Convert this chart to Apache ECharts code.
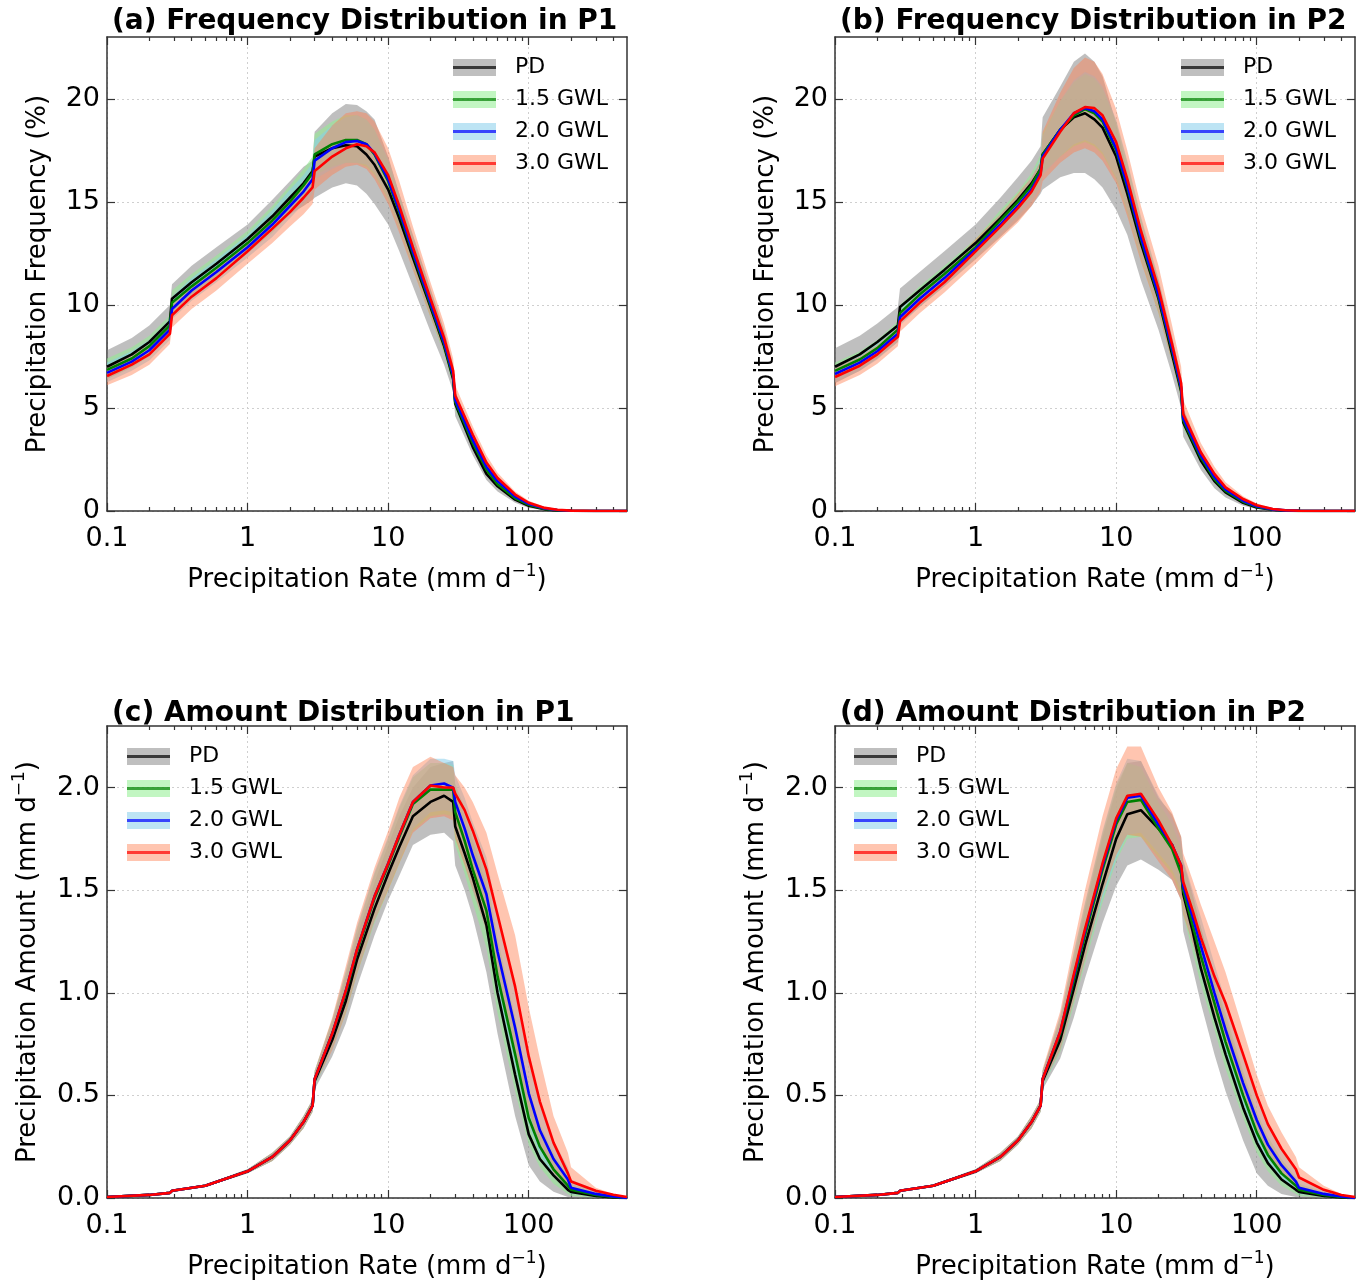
<!DOCTYPE html>
<html>
<head>
<meta charset="utf-8">
<script src="https://cdn.jsdelivr.net/npm/echarts@6.0.0/dist/echarts.min.js"></script>
<style>
  html, body { margin: 0; padding: 0; background: #fff; }
  #chart { width: 1362px; height: 1281px; }
</style>
</head>
<body>
<div id="chart"></div>
<script>
// precipitation rate bins (mm/d)
const rateFreq = [0.1, 0.15, 0.2, 0.28, 0.29, 0.4, 0.6, 1, 1.5, 2, 2.5, 2.9, 3, 4, 5, 6, 7, 8, 10, 12,
  15, 20, 25, 29, 30, 40, 50, 60, 80, 100, 130, 160, 200, 300, 500];
const rateAmt = [0.1, 0.2, 0.28, 0.29, 0.5, 1, 1.5, 2, 2.5, 2.9, 3, 4, 5, 6, 8, 10, 12, 15, 20, 25,
  29, 30, 35, 40, 50, 60, 80, 100, 120, 150, 190, 200, 300, 400, 500];

const scenarios = ['PD', '1.5 GWL', '2.0 GWL', '3.0 GWL'];
const majorRates = [0.1, 1, 10, 100];
const minorRates = [0.2, 0.3, 0.4, 0.5, 0.6, 0.7, 0.8, 0.9, 2, 3, 4, 5, 6, 7, 8, 9,
  20, 30, 40, 50, 60, 70, 80, 90, 200, 300, 400];
const freqTicks = [0, 5, 10, 15, 20];
const amtTicks = [0, 0.5, 1, 1.5, 2];

// (a) frequency P1
const p1FreqPD   = [7.0, 7.6, 8.2, 9.2, 10.3, 11.1, 12.0, 13.2, 14.3, 15.2, 15.9, 16.5, 17.2, 17.6, 17.75, 17.7, 17.3, 16.8, 15.6, 14.2, 12.3, 9.9, 8.0, 6.4, 5.2, 3.1, 1.8, 1.2, 0.55, 0.25, 0.08, 0.03, 0.01, 0, 0];
const p1Freq15   = [6.85, 7.4, 8.0, 9.0, 10.1, 10.9, 11.8, 13.0, 14.1, 15.0, 15.8, 16.4, 17.3, 17.8, 18.0, 18.0, 17.8, 17.3, 16.0, 14.5, 12.5, 10.0, 8.1, 6.5, 5.3, 3.3, 2.0, 1.3, 0.62, 0.3, 0.1, 0.04, 0.01, 0, 0];
const p1Freq20   = [6.7, 7.25, 7.8, 8.8, 9.8, 10.7, 11.6, 12.8, 13.9, 14.8, 15.5, 16.1, 17.0, 17.6, 17.9, 17.95, 17.8, 17.35, 16.1, 14.6, 12.6, 10.1, 8.2, 6.6, 5.4, 3.45, 2.15, 1.45, 0.7, 0.35, 0.12, 0.05, 0.015, 0, 0];
const p1Freq30   = [6.55, 7.1, 7.6, 8.6, 9.5, 10.4, 11.3, 12.6, 13.7, 14.5, 15.2, 15.7, 16.5, 17.2, 17.6, 17.8, 17.7, 17.4, 16.3, 14.8, 12.8, 10.3, 8.4, 6.8, 5.6, 3.7, 2.35, 1.6, 0.8, 0.4, 0.15, 0.06, 0.02, 0, 0];
const p1FreqPDLo = [6.4, 7.0, 7.6, 8.6, 9.6, 10.5, 11.4, 12.6, 13.6, 14.4, 14.8, 15.1, 15.2, 15.7, 15.9, 15.8, 15.4, 14.9, 13.9, 12.6, 10.9, 8.7, 7.1, 5.8, 4.6, 2.7, 1.5, 0.95, 0.4, 0.15, 0.04, 0.01, 0, 0, 0];
const p1FreqPDHi = [7.8, 8.4, 9.0, 10.0, 11.0, 11.9, 12.8, 13.9, 15.1, 16.0, 16.7, 17.0, 18.4, 19.3, 19.75, 19.7, 19.4, 19.0, 17.2, 15.4, 13.4, 10.8, 8.8, 7.1, 5.8, 3.6, 2.2, 1.5, 0.75, 0.4, 0.15, 0.06, 0.02, 0, 0];
const p1Freq15Lo = [6.4, 6.95, 7.5, 8.5, 9.6, 10.4, 11.3, 12.5, 13.5, 14.4, 15.1, 15.6, 16.3, 16.7, 16.9, 16.9, 16.7, 16.3, 15.1, 13.7, 11.8, 9.4, 7.6, 6.1, 4.9, 3.0, 1.75, 1.1, 0.5, 0.22, 0.06, 0.02, 0, 0, 0];
const p1Freq15Hi = [7.4, 7.95, 8.5, 9.5, 10.7, 11.5, 12.4, 13.6, 14.8, 15.8, 16.6, 17.2, 18.3, 18.9, 19.2, 19.2, 19.0, 18.5, 17.0, 15.3, 13.2, 10.6, 8.6, 6.9, 5.7, 3.6, 2.25, 1.5, 0.75, 0.38, 0.14, 0.06, 0.02, 0, 0];
const p1Freq20Lo = [6.25, 6.8, 7.3, 8.3, 9.3, 10.2, 11.1, 12.3, 13.3, 14.2, 14.9, 15.4, 16.1, 16.6, 16.9, 16.9, 16.8, 16.4, 15.2, 13.8, 11.9, 9.5, 7.7, 6.2, 5.0, 3.15, 1.9, 1.25, 0.58, 0.27, 0.08, 0.03, 0.01, 0, 0];
const p1Freq20Hi = [7.2, 7.75, 8.3, 9.3, 10.4, 11.3, 12.2, 13.4, 14.6, 15.6, 16.3, 16.9, 18.0, 18.7, 19.1, 19.2, 19.0, 18.5, 17.1, 15.4, 13.3, 10.7, 8.7, 7.0, 5.8, 3.8, 2.4, 1.65, 0.82, 0.43, 0.16, 0.07, 0.02, 0, 0];
const p1Freq30Lo = [6.1, 6.6, 7.1, 8.1, 8.9, 9.8, 10.7, 12.0, 13.0, 13.8, 14.4, 14.9, 15.6, 16.3, 16.7, 16.8, 16.6, 16.1, 14.9, 13.5, 11.7, 9.4, 7.7, 6.2, 5.1, 3.3, 2.05, 1.35, 0.65, 0.3, 0.1, 0.04, 0.01, 0, 0];
const p1Freq30Hi = [7.0, 7.55, 8.1, 9.1, 10.0, 10.9, 11.8, 13.1, 14.3, 15.2, 16.0, 16.5, 17.6, 18.7, 19.3, 19.4, 19.3, 18.9, 17.6, 16.0, 13.8, 11.1, 9.1, 7.4, 6.1, 4.1, 2.7, 1.85, 0.95, 0.5, 0.2, 0.08, 0.03, 0.005, 0];

// (b) frequency P2
const p2FreqPD   = [7.0, 7.6, 8.2, 9.0, 9.9, 10.7, 11.7, 13.0, 14.2, 15.1, 15.9, 16.6, 17.3, 18.5, 19.1, 19.3, 19.0, 18.6, 17.2, 15.4, 13.0, 10.3, 7.6, 5.8, 4.3, 2.45, 1.45, 0.9, 0.4, 0.17, 0.06, 0.02, 0.005, 0, 0];
const p2Freq15   = [6.8, 7.35, 7.9, 8.8, 9.6, 10.5, 11.5, 12.8, 14.1, 15.0, 15.8, 16.6, 17.3, 18.5, 19.2, 19.5, 19.3, 18.9, 17.5, 15.7, 13.2, 10.4, 7.8, 5.9, 4.4, 2.6, 1.55, 0.98, 0.45, 0.2, 0.07, 0.025, 0.008, 0, 0];
const p2Freq20   = [6.65, 7.2, 7.75, 8.6, 9.4, 10.3, 11.3, 12.7, 13.9, 14.8, 15.6, 16.4, 17.2, 18.5, 19.3, 19.55, 19.4, 19.0, 17.6, 15.8, 13.3, 10.5, 7.9, 6.0, 4.5, 2.7, 1.65, 1.05, 0.5, 0.23, 0.08, 0.03, 0.01, 0, 0];
const p2Freq30   = [6.5, 7.05, 7.6, 8.45, 9.2, 10.1, 11.1, 12.6, 13.8, 14.7, 15.5, 16.3, 17.1, 18.4, 19.3, 19.6, 19.55, 19.2, 17.9, 16.1, 13.6, 10.8, 8.1, 6.2, 4.7, 2.85, 1.8, 1.15, 0.58, 0.28, 0.1, 0.04, 0.015, 0.002, 0];
const p2FreqPDLo = [6.2, 6.8, 7.4, 8.2, 9.1, 9.9, 10.9, 12.2, 13.3, 14.1, 14.8, 15.4, 15.6, 16.2, 16.4, 16.4, 16.1, 15.7, 14.6, 13.4, 11.2, 8.8, 6.6, 5.0, 3.6, 2.0, 1.1, 0.65, 0.25, 0.1, 0.03, 0.01, 0, 0, 0];
const p2FreqPDHi = [7.9, 8.5, 9.1, 9.9, 10.8, 11.6, 12.6, 13.9, 15.2, 16.2, 17.0, 17.7, 19.1, 20.6, 21.8, 22.2, 21.8, 21.1, 18.8, 16.5, 13.8, 11.2, 8.4, 6.5, 5.0, 2.9, 1.8, 1.15, 0.55, 0.25, 0.09, 0.03, 0.01, 0, 0];
const p2Freq15Lo = [6.4, 6.95, 7.5, 8.4, 9.2, 10.1, 11.1, 12.4, 13.6, 14.5, 15.2, 15.9, 16.4, 17.2, 17.7, 17.9, 17.7, 17.3, 16.1, 14.5, 12.2, 9.6, 7.2, 5.4, 4.0, 2.3, 1.35, 0.82, 0.36, 0.15, 0.05, 0.015, 0.004, 0, 0];
const p2Freq15Hi = [7.2, 7.75, 8.3, 9.2, 10.0, 10.9, 11.9, 13.2, 14.6, 15.5, 16.4, 17.3, 18.3, 19.9, 20.8, 21.2, 21.0, 20.5, 18.9, 16.9, 14.2, 11.2, 8.4, 6.4, 4.8, 2.9, 1.75, 1.12, 0.54, 0.25, 0.09, 0.035, 0.012, 0, 0];
const p2Freq20Lo = [6.25, 6.8, 7.35, 8.2, 9.0, 9.9, 10.9, 12.3, 13.4, 14.3, 15.0, 15.7, 16.3, 17.2, 17.8, 18.0, 17.8, 17.4, 16.2, 14.6, 12.3, 9.7, 7.3, 5.5, 4.1, 2.4, 1.45, 0.88, 0.4, 0.17, 0.06, 0.02, 0.005, 0, 0];
const p2Freq20Hi = [7.05, 7.6, 8.15, 9.0, 9.8, 10.7, 11.7, 13.1, 14.4, 15.3, 16.2, 17.1, 18.2, 19.9, 20.9, 21.3, 21.1, 20.6, 19.0, 17.0, 14.3, 11.3, 8.5, 6.5, 4.9, 3.0, 1.85, 1.2, 0.6, 0.29, 0.1, 0.04, 0.015, 0, 0];
const p2Freq30Lo = [6.05, 6.6, 7.15, 8.0, 8.7, 9.6, 10.6, 12.0, 13.2, 14.0, 14.8, 15.5, 16.0, 16.9, 17.4, 17.6, 17.4, 17.0, 15.9, 14.3, 12.1, 9.6, 7.2, 5.5, 4.1, 2.4, 1.45, 0.9, 0.42, 0.18, 0.06, 0.02, 0.005, 0, 0];
const p2Freq30Hi = [6.95, 7.5, 8.05, 8.9, 9.7, 10.6, 11.6, 13.2, 14.4, 15.4, 16.2, 17.0, 18.4, 20.3, 21.5, 22.0, 21.8, 21.2, 19.5, 17.5, 14.8, 11.9, 9.0, 7.0, 5.4, 3.3, 2.15, 1.4, 0.72, 0.36, 0.14, 0.06, 0.02, 0.004, 0];

// (c) amount P1
const p1AmtPD   = [0.005, 0.015, 0.025, 0.035, 0.06, 0.13, 0.2, 0.28, 0.37, 0.45, 0.57, 0.77, 0.96, 1.16, 1.41, 1.58, 1.71, 1.86, 1.93, 1.96, 1.93, 1.81, 1.68, 1.56, 1.33, 1.0, 0.6, 0.31, 0.19, 0.11, 0.04, 0.03, 0.01, 0.003, 0];
const p1Amt15   = [0.005, 0.015, 0.025, 0.035, 0.06, 0.13, 0.2, 0.28, 0.37, 0.45, 0.58, 0.8, 1.0, 1.2, 1.46, 1.62, 1.76, 1.92, 1.99, 1.99, 1.99, 1.88, 1.74, 1.6, 1.4, 1.08, 0.7, 0.39, 0.25, 0.14, 0.06, 0.04, 0.015, 0.005, 0];
const p1Amt20   = [0.005, 0.015, 0.025, 0.035, 0.06, 0.13, 0.2, 0.28, 0.37, 0.45, 0.58, 0.8, 1.01, 1.21, 1.47, 1.63, 1.77, 1.93, 2.01, 2.02, 2.0, 1.93, 1.8, 1.67, 1.48, 1.2, 0.83, 0.51, 0.33, 0.19, 0.09, 0.05, 0.02, 0.007, 0];
const p1Amt30   = [0.005, 0.015, 0.025, 0.035, 0.06, 0.13, 0.2, 0.28, 0.37, 0.45, 0.58, 0.8, 1.01, 1.21, 1.47, 1.63, 1.77, 1.93, 2.01, 2.0, 2.0, 1.97, 1.89, 1.79, 1.6, 1.38, 1.03, 0.69, 0.47, 0.27, 0.12, 0.08, 0.035, 0.016, 0.005];
const p1AmtPDLo = [0.004, 0.013, 0.022, 0.032, 0.055, 0.12, 0.18, 0.26, 0.34, 0.42, 0.53, 0.69, 0.85, 1.03, 1.28, 1.45, 1.57, 1.72, 1.77, 1.78, 1.74, 1.62, 1.5, 1.37, 1.1, 0.8, 0.4, 0.16, 0.08, 0.03, 0.005, 0, 0, 0, 0];
const p1AmtPDHi = [0.006, 0.017, 0.028, 0.038, 0.066, 0.14, 0.22, 0.3, 0.4, 0.48, 0.61, 0.85, 1.08, 1.28, 1.54, 1.72, 1.86, 2.0, 2.1, 2.12, 2.13, 2.0, 1.86, 1.74, 1.53, 1.2, 0.8, 0.48, 0.31, 0.18, 0.08, 0.05, 0.02, 0.006, 0];
const p1Amt15Lo = [0.004, 0.013, 0.022, 0.032, 0.055, 0.12, 0.18, 0.26, 0.34, 0.42, 0.54, 0.73, 0.9, 1.09, 1.34, 1.5, 1.63, 1.79, 1.86, 1.87, 1.86, 1.72, 1.58, 1.44, 1.22, 0.9, 0.52, 0.26, 0.15, 0.07, 0.02, 0.01, 0.003, 0, 0];
const p1Amt15Hi = [0.006, 0.017, 0.028, 0.038, 0.066, 0.14, 0.22, 0.3, 0.4, 0.48, 0.62, 0.87, 1.1, 1.31, 1.58, 1.75, 1.9, 2.05, 2.12, 2.12, 2.11, 2.02, 1.9, 1.76, 1.58, 1.27, 0.88, 0.53, 0.36, 0.22, 0.11, 0.07, 0.03, 0.01, 0];
const p1Amt20Lo = [0.004, 0.013, 0.022, 0.032, 0.055, 0.12, 0.18, 0.26, 0.34, 0.42, 0.54, 0.73, 0.91, 1.1, 1.35, 1.51, 1.64, 1.8, 1.88, 1.89, 1.88, 1.78, 1.64, 1.5, 1.3, 1.02, 0.64, 0.36, 0.21, 0.11, 0.04, 0.02, 0.007, 0.002, 0];
const p1Amt20Hi = [0.006, 0.017, 0.028, 0.038, 0.066, 0.14, 0.22, 0.3, 0.4, 0.48, 0.62, 0.87, 1.11, 1.32, 1.59, 1.76, 1.91, 2.06, 2.14, 2.14, 2.13, 2.06, 1.95, 1.83, 1.66, 1.38, 1.01, 0.67, 0.46, 0.28, 0.15, 0.09, 0.04, 0.014, 0];
const p1Amt30Lo = [0.004, 0.013, 0.022, 0.032, 0.055, 0.12, 0.18, 0.26, 0.34, 0.42, 0.55, 0.72, 0.9, 1.09, 1.35, 1.5, 1.63, 1.78, 1.85, 1.86, 1.84, 1.75, 1.62, 1.5, 1.3, 1.08, 0.72, 0.42, 0.25, 0.12, 0.05, 0.03, 0.01, 0.003, 0];
const p1Amt30Hi = [0.006, 0.017, 0.028, 0.038, 0.066, 0.14, 0.22, 0.3, 0.4, 0.48, 0.62, 0.88, 1.13, 1.34, 1.61, 1.79, 1.95, 2.1, 2.15, 2.12, 2.1, 2.06, 2.0, 1.93, 1.78, 1.58, 1.28, 0.93, 0.68, 0.4, 0.22, 0.15, 0.05, 0.02, 0.005];

// (d) amount P2
const p2AmtPD   = [0.005, 0.015, 0.025, 0.035, 0.06, 0.13, 0.2, 0.28, 0.37, 0.45, 0.57, 0.77, 1.02, 1.23, 1.53, 1.75, 1.87, 1.89, 1.8, 1.72, 1.6, 1.48, 1.3, 1.12, 0.88, 0.7, 0.44, 0.27, 0.17, 0.09, 0.04, 0.03, 0.01, 0.003, 0];
const p2Amt15   = [0.005, 0.015, 0.025, 0.035, 0.06, 0.13, 0.2, 0.28, 0.37, 0.45, 0.58, 0.8, 1.06, 1.28, 1.6, 1.82, 1.93, 1.94, 1.8, 1.7, 1.58, 1.5, 1.33, 1.18, 0.95, 0.76, 0.5, 0.32, 0.21, 0.12, 0.06, 0.04, 0.015, 0.005, 0];
const p2Amt20   = [0.005, 0.015, 0.025, 0.035, 0.06, 0.13, 0.2, 0.28, 0.37, 0.45, 0.58, 0.81, 1.08, 1.3, 1.62, 1.84, 1.95, 1.96, 1.82, 1.72, 1.62, 1.52, 1.37, 1.23, 1.0, 0.82, 0.56, 0.38, 0.26, 0.16, 0.08, 0.05, 0.02, 0.007, 0];
const p2Amt30   = [0.005, 0.015, 0.025, 0.035, 0.06, 0.13, 0.2, 0.28, 0.37, 0.45, 0.58, 0.81, 1.09, 1.31, 1.63, 1.85, 1.96, 1.97, 1.84, 1.72, 1.62, 1.54, 1.4, 1.27, 1.08, 0.95, 0.7, 0.5, 0.36, 0.24, 0.14, 0.1, 0.04, 0.015, 0.005];
const p2AmtPDLo = [0.004, 0.013, 0.022, 0.032, 0.055, 0.12, 0.18, 0.26, 0.34, 0.42, 0.53, 0.68, 0.88, 1.07, 1.34, 1.52, 1.62, 1.65, 1.6, 1.55, 1.45, 1.3, 1.12, 0.95, 0.7, 0.52, 0.28, 0.12, 0.06, 0.02, 0.005, 0, 0, 0, 0];
const p2AmtPDHi = [0.006, 0.017, 0.028, 0.038, 0.066, 0.14, 0.22, 0.3, 0.4, 0.48, 0.62, 0.86, 1.16, 1.41, 1.76, 1.99, 2.12, 2.13, 1.95, 1.87, 1.76, 1.64, 1.48, 1.32, 1.07, 0.87, 0.6, 0.4, 0.28, 0.17, 0.09, 0.06, 0.02, 0.006, 0];
const p2Amt15Lo = [0.004, 0.013, 0.022, 0.032, 0.055, 0.12, 0.18, 0.26, 0.34, 0.42, 0.54, 0.71, 0.94, 1.14, 1.44, 1.64, 1.75, 1.76, 1.66, 1.58, 1.47, 1.38, 1.2, 1.04, 0.82, 0.63, 0.39, 0.22, 0.13, 0.06, 0.02, 0.01, 0.003, 0, 0];
const p2Amt15Hi = [0.006, 0.017, 0.028, 0.038, 0.066, 0.14, 0.22, 0.3, 0.4, 0.48, 0.62, 0.88, 1.19, 1.43, 1.78, 2.01, 2.12, 2.1, 1.93, 1.82, 1.7, 1.62, 1.46, 1.32, 1.08, 0.9, 0.62, 0.42, 0.3, 0.19, 0.1, 0.07, 0.03, 0.01, 0];
const p2Amt20Lo = [0.004, 0.013, 0.022, 0.032, 0.055, 0.12, 0.18, 0.26, 0.34, 0.42, 0.54, 0.72, 0.96, 1.16, 1.46, 1.65, 1.77, 1.78, 1.68, 1.6, 1.5, 1.4, 1.24, 1.09, 0.87, 0.69, 0.45, 0.28, 0.18, 0.09, 0.04, 0.02, 0.008, 0.002, 0];
const p2Amt20Hi = [0.006, 0.017, 0.028, 0.038, 0.066, 0.14, 0.22, 0.3, 0.4, 0.48, 0.62, 0.89, 1.2, 1.44, 1.79, 2.02, 2.14, 2.13, 1.96, 1.85, 1.74, 1.65, 1.5, 1.37, 1.14, 0.96, 0.68, 0.49, 0.36, 0.24, 0.13, 0.09, 0.04, 0.014, 0];
const p2Amt30Lo = [0.004, 0.013, 0.022, 0.032, 0.055, 0.12, 0.18, 0.26, 0.34, 0.42, 0.55, 0.72, 0.96, 1.16, 1.48, 1.67, 1.77, 1.76, 1.64, 1.55, 1.45, 1.38, 1.24, 1.1, 0.9, 0.75, 0.52, 0.34, 0.22, 0.12, 0.05, 0.03, 0.01, 0.003, 0];
const p2Amt30Hi = [0.006, 0.017, 0.028, 0.038, 0.066, 0.14, 0.22, 0.3, 0.4, 0.48, 0.63, 0.91, 1.24, 1.5, 1.86, 2.09, 2.2, 2.2, 2.0, 1.88, 1.76, 1.68, 1.55, 1.43, 1.25, 1.1, 0.82, 0.6, 0.45, 0.32, 0.2, 0.15, 0.06, 0.02, 0.005];

const FONT = 'DejaVu Sans';
const lineColors = ['#000000', '#008000', '#0000ff', '#ff0000'];
const legendLineColors = ['rgba(0,0,0,0.7)', 'rgba(0,128,0,0.7)', 'rgba(0,0,255,0.7)', 'rgba(255,0,0,0.7)'];
const bandColors = ['rgba(128,128,128,0.5)', 'rgba(144,238,144,0.55)', 'rgba(135,206,235,0.55)', 'rgba(255,127,80,0.45)'];
const frameColor = '#333';

const panels = [
  { title: '(a) Frequency Distribution in P1', kind: 'freq', x: rateFreq,
    mean: [p1FreqPD, p1Freq15, p1Freq20, p1Freq30],
    lo: [p1FreqPDLo, p1Freq15Lo, p1Freq20Lo, p1Freq30Lo],
    hi: [p1FreqPDHi, p1Freq15Hi, p1Freq20Hi, p1Freq30Hi],
    left: 107, top: 37, titleTop: 3, legendLeft: 453 },
  { title: '(b) Frequency Distribution in P2', kind: 'freq', x: rateFreq,
    mean: [p2FreqPD, p2Freq15, p2Freq20, p2Freq30],
    lo: [p2FreqPDLo, p2Freq15Lo, p2Freq20Lo, p2Freq30Lo],
    hi: [p2FreqPDHi, p2Freq15Hi, p2Freq20Hi, p2Freq30Hi],
    left: 835, top: 37, titleTop: 3, legendLeft: 1181 },
  { title: '(c) Amount Distribution in P1', kind: 'amt', x: rateAmt,
    mean: [p1AmtPD, p1Amt15, p1Amt20, p1Amt30],
    lo: [p1AmtPDLo, p1Amt15Lo, p1Amt20Lo, p1Amt30Lo],
    hi: [p1AmtPDHi, p1Amt15Hi, p1Amt20Hi, p1Amt30Hi],
    left: 107, top: 726, titleTop: 695, legendLeft: 127 },
  { title: '(d) Amount Distribution in P2', kind: 'amt', x: rateAmt,
    mean: [p2AmtPD, p2Amt15, p2Amt20, p2Amt30],
    lo: [p2AmtPDLo, p2Amt15Lo, p2Amt20Lo, p2Amt30Lo],
    hi: [p2AmtPDHi, p2Amt15Hi, p2Amt20Hi, p2Amt30Hi],
    left: 835, top: 726, titleTop: 695, legendLeft: 854 }
];

const GW = 520, GH = 474;

const nameRich = {
  n: { fontFamily: FONT, fontSize: 26, color: '#000', lineHeight: 34 },
  s: { fontFamily: FONT, fontSize: 17, color: '#000', lineHeight: 17, verticalAlign: 'top' }
};
const frame = { show: true, onZero: false, lineStyle: { color: frameColor, width: 1.5 } };
const hiddenLine = { show: true, onZero: false, lineStyle: { color: 'rgba(0,0,0,0)', width: 0 } };
const gridLine = { show: true, lineStyle: { color: '#cfcfcf', width: 1, type: [2, 3] } };
const tickStyle = { color: frameColor, width: 1.2 };

function rateLabel(v) {
  return v < 1 ? v.toFixed(1) : String(Math.round(v));
}

function bandRenderer(color) {
  return function (params, api) {
    if (params.dataIndexInside !== 0) return null;
    const n = params.dataInsideLength;
    const upper = [], lower = [];
    for (let i = 0; i < n; i++) {
      const x = api.value(0, i);
      upper.push(api.coord([x, api.value(2, i)]));
      lower.push(api.coord([x, api.value(1, i)]));
    }
    return {
      type: 'polygon',
      shape: { points: upper.concat(lower.reverse()) },
      style: { fill: color }
    };
  };
}

const grid = [], xAxis = [], yAxis = [], series = [], title = [], legend = [];

panels.forEach(function (p, g) {
  const freq = p.kind === 'freq';
  grid.push({ left: p.left, top: p.top, width: GW, height: GH });

  title.push({
    text: p.title, left: p.left, top: p.titleTop,
    textStyle: { fontFamily: FONT, fontSize: 28, fontWeight: 'bold', color: '#000' }
  });

  const xBase = { type: 'log', logBase: 10, min: 0.1, max: 500, gridIndex: g };
  xAxis.push(Object.assign({}, xBase, {
    position: 'bottom', axisLine: frame,
    axisTick: { inside: true, length: 8, customValues: majorRates, lineStyle: tickStyle },
    axisLabel: { customValues: majorRates, formatter: rateLabel, fontFamily: FONT, fontSize: 27, color: '#000', margin: 14 },
    splitLine: gridLine,
    name: '{n|Precipitation Rate (mm d}{s|\u22121}{n|)}',
    nameLocation: 'middle', nameGap: 52,
    nameTextStyle: { fontFamily: FONT, fontSize: 26, color: '#000', rich: nameRich }
  }));
  xAxis.push(Object.assign({}, xBase, {
    position: 'bottom', axisLine: hiddenLine,
    axisTick: { show: true, inside: true, length: 4, customValues: minorRates, lineStyle: tickStyle },
    axisLabel: { show: false }, splitLine: { show: false }
  }));
  xAxis.push(Object.assign({}, xBase, {
    position: 'top', axisLine: frame,
    axisTick: { inside: true, length: 8, customValues: majorRates, lineStyle: tickStyle },
    axisLabel: { show: false }, splitLine: { show: false }
  }));
  xAxis.push(Object.assign({}, xBase, {
    position: 'top', axisLine: hiddenLine,
    axisTick: { show: true, inside: true, length: 4, customValues: minorRates, lineStyle: tickStyle },
    axisLabel: { show: false }, splitLine: { show: false }
  }));

  const yTicks = freq ? freqTicks : amtTicks;
  const yBase = { type: 'value', min: 0, max: freq ? 23 : 2.3, interval: freq ? 5 : 0.5, gridIndex: g };
  yAxis.push(Object.assign({}, yBase, {
    position: 'left', axisLine: frame,
    axisTick: { inside: true, length: 8, customValues: yTicks, lineStyle: tickStyle },
    axisLabel: {
      customValues: yTicks, fontFamily: FONT, fontSize: 27, color: '#000', margin: 7,
      formatter: function (v) { return freq ? String(Math.round(v)) : v.toFixed(1); }
    },
    splitLine: gridLine,
    name: freq ? 'Precipitation Frequency (%)' : '{n|Precipitation Amount (mm d}{s|\u22121}{n|)}',
    nameLocation: 'middle', nameRotate: 90, nameGap: freq ? 56 : 62,
    nameTextStyle: { fontFamily: FONT, fontSize: 26, color: '#000', rich: nameRich }
  }));
  yAxis.push(Object.assign({}, yBase, {
    position: 'right', axisLine: frame,
    axisTick: { inside: true, length: 8, customValues: yTicks, lineStyle: tickStyle },
    axisLabel: { show: false }, splitLine: { show: false }
  }));

  scenarios.forEach(function (s, k) {
    series.push({
      type: 'custom', name: s + ' band', xAxisIndex: 4 * g, yAxisIndex: 2 * g,
      itemStyle: { color: bandColors[k] }, silent: true, clip: true, z: 2,
      encode: { x: 0, y: [1, 2] },
      data: p.x.map(function (x, i) { return [x, p.lo[k][i], p.hi[k][i]]; }),
      renderItem: bandRenderer(bandColors[k])
    });
  });
  scenarios.forEach(function (s, k) {
    series.push({
      type: 'line', name: s, xAxisIndex: 4 * g, yAxisIndex: 2 * g,
      symbol: 'none', clip: true, z: 3, silent: true,
      lineStyle: { color: lineColors[k], width: 2.6 },
      itemStyle: { color: lineColors[k] },
      data: p.x.map(function (x, i) { return [x, p.mean[k][i]]; })
    });
  });

  const legendTop = p.top + 28 - 8.5;
  const legendCommon = {
    orient: 'vertical', left: p.legendLeft, top: legendTop, padding: 0,
    itemWidth: 43, itemHeight: 17, itemGap: 10, selectedMode: false,
    itemStyle: { borderWidth: 0 },
    formatter: function (n) { return n.replace(' band', ''); }
  };
  legend.push(Object.assign({}, legendCommon, {
    data: scenarios.map(function (s) { return s + ' band'; }),
    icon: 'rect', z: 5,
    textStyle: { fontFamily: FONT, fontSize: 22, lineHeight: 22, color: 'rgba(0,0,0,0)', padding: [0, 0, 0, 14] }
  }));
  legend.push(Object.assign({}, legendCommon, {
    data: scenarios.map(function (s, k) { return { name: s, itemStyle: { color: legendLineColors[k], borderWidth: 0 } }; }),
    icon: 'path://M0,0L0,0M0,7H43V10H0ZM43,17L43,17', z: 6,
    textStyle: { fontFamily: FONT, fontSize: 22, lineHeight: 22, color: '#000', padding: [0, 0, 0, 14] }
  }));
});

const chart = echarts.init(document.getElementById('chart'), null, { renderer: 'canvas' });
chart.setOption({
  backgroundColor: '#ffffff',
  animation: false,
  textStyle: { fontFamily: FONT },
  title: title,
  legend: legend,
  grid: grid,
  xAxis: xAxis,
  yAxis: yAxis,
  series: series
});
</script>
</body>
</html>
